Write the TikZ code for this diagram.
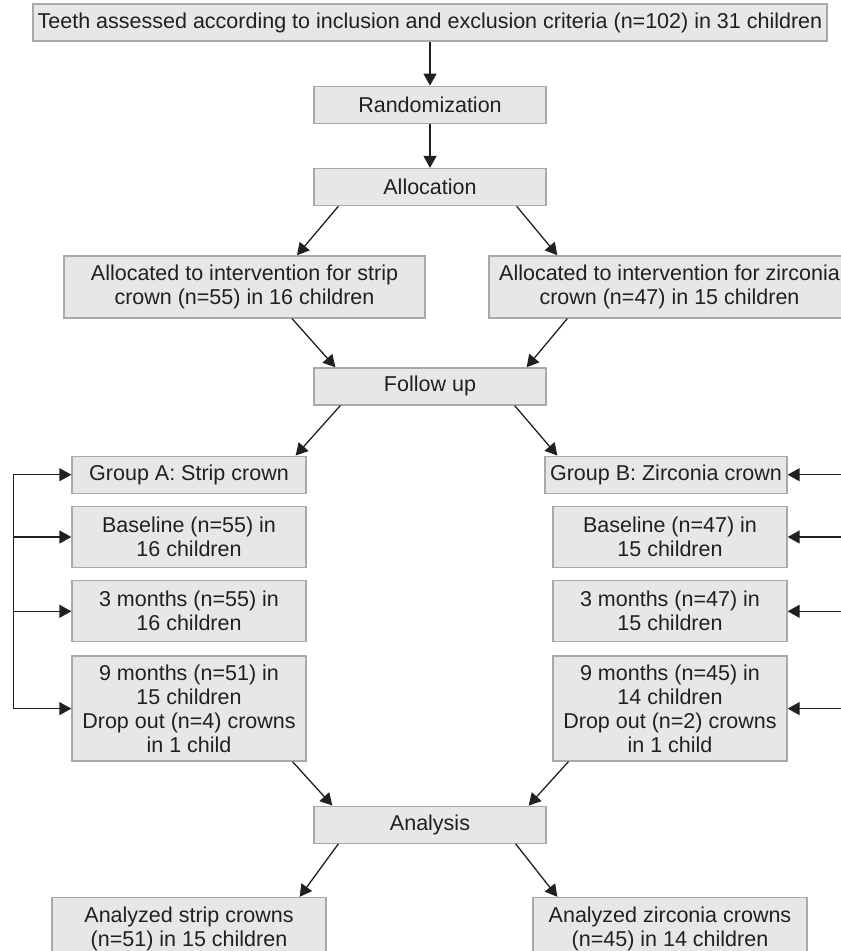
\documentclass[tikz,border=0pt]{standalone}
\usepackage{fontspec}
\setmainfont{Liberation Sans}
\usepackage{xcolor}
\usetikzlibrary{arrows.meta, positioning}
\definecolor{boxfill}{HTML}{E6E7E8}
\definecolor{boxline}{HTML}{A7A9AC}
\definecolor{ink}{HTML}{231F20}

\begin{document}
\begin{tikzpicture}[
		font=\fontsize{21.5}{24}\selectfont,
		text=ink,
		box/.style={
			draw=boxline,
			line width=1.3pt,
			fill=boxfill,
			align=center,
			inner sep=2pt,
			minimum width=232pt,
			minimum height=37pt
		},
		twobox/.style={box,minimum width=234pt,minimum height=61pt},
		fourbox/.style={box,minimum width=234pt,minimum height=105pt},
		allocbox/.style={box,minimum width=361pt,minimum height=62pt},
		anabox/.style={box,minimum width=274pt,minimum height=62pt},
		arrow/.style={-{Triangle[length=12pt,width=13pt]},line width=1.3pt,draw=ink}
	]
	\useasboundingbox (0,0) rectangle (841pt,-951pt);
	\clip (0,0) rectangle (841pt,-951pt);
	
	\node[box,minimum width=794pt] (teeth) at (430pt,-22.5pt) {Teeth assessed according to inclusion and exclusion criteria (n=102) in 31 children};
	\node[box,below=44pt of teeth] (rand) {Randomization};
	\node[box,below=44pt of rand] (alloc) {Allocation};
	
	\node[allocbox,below=49pt of alloc,xshift=-185.5pt] (stripalloc) {Allocated to intervention for strip\\crown (n=55) in 16 children};
	\node[allocbox,below=49pt of alloc,xshift=+239.5pt] (zircalloc) {Allocated to intervention for zirconia\\crown (n=47) in 15 children};
	
	\node[box,below=161pt of alloc] (follow) {Follow up};
	
	\node[box,minimum width=234pt,below=50pt of follow,xshift=-241pt] (groupa) {Group A: Strip crown};
	\node[twobox,below=12pt of groupa] (basea) {Baseline (n=55) in\\16 children};
	\node[twobox,below=12pt of basea] (threea) {3 months (n=55) in\\16 children};
	\node[fourbox,below=13pt of threea] (ninea) {9 months (n=51) in\\15 children\\Drop out (n=4) crowns\\in 1 child};
	
	\node[box,minimum width=242pt,below=50pt of follow,xshift=+236pt] (groupb) {Group B: Zirconia crown};
	\node[twobox,below=12pt of groupb,xshift=4pt] (baseb) {Baseline (n=47) in\\15 children};
	\node[twobox,below=12pt of baseb] (threeb) {3 months (n=47) in\\15 children};
	\node[fourbox,below=13pt of threeb] (nineb) {9 months (n=45) in\\14 children\\Drop out (n=2) crowns\\in 1 child};
	
	\node[box,below=400pt of follow] (analysis) {Analysis};
	\node[anabox,below=53pt of analysis,xshift=-241pt] (anastrip) {Analyzed strip crowns\\(n=51) in 15 children};
	\node[anabox,below=53pt of analysis,xshift=+240pt] (anazirc) {Analyzed zirconia crowns\\(n=45) in 14 children};
	
	\coordinate[left=58pt of groupa.west] (bracket);
	\coordinate (edge) at (860pt,0);
	
	\draw[arrow] (teeth) -- (rand);
	\draw[arrow] (rand) -- (alloc);
	\draw[arrow] ([xshift=25pt]alloc.south west) -- ([xshift=52.5pt]stripalloc.north);
	\draw[arrow] ([xshift=-30pt]alloc.south east) -- ([xshift=69pt]zircalloc.north west);
	\draw[arrow] ([xshift=47.5pt]stripalloc.south) -- ([xshift=22pt]follow.north west);
	\draw[arrow] ([xshift=79pt]zircalloc.south west) -- ([xshift=-20pt]follow.north east);
	\draw[arrow] ([xshift=27pt]follow.south west) -- ([xshift=-11pt]groupa.north east);
	\draw[arrow] ([xshift=-32pt]follow.south east) -- ([xshift=13pt]groupb.north west);
	\draw[arrow] ([xshift=-14pt]ninea.south east) -- ([xshift=19pt]analysis.north west);
	\draw[arrow] ([xshift=16pt]nineb.south west) -- ([xshift=-18pt]analysis.north east);
	\draw[arrow] ([xshift=25pt]analysis.south west) -- ([xshift=-27pt]anastrip.north east);
	\draw[arrow] ([xshift=-31pt]analysis.south east) -- ([xshift=25pt]anazirc.north west);
	
	\draw[line width=1.3pt,draw=ink] (bracket) -- (bracket |- ninea.west);
	\draw[arrow] (bracket) -- (groupa.west);
	\draw[arrow] (bracket |- basea.west) -- (basea.west);
	\draw[arrow] (bracket |- threea.west) -- (threea.west);
	\draw[arrow] (bracket |- ninea.west) -- (ninea.west);
	
	\draw[arrow] (edge |- groupb.east) -- (groupb.east);
	\draw[arrow] (edge |- baseb.east) -- (baseb.east);
	\draw[arrow] (edge |- threeb.east) -- (threeb.east);
	\draw[arrow] (edge |- nineb.east) -- (nineb.east);
	
\end{tikzpicture}
\end{document}
